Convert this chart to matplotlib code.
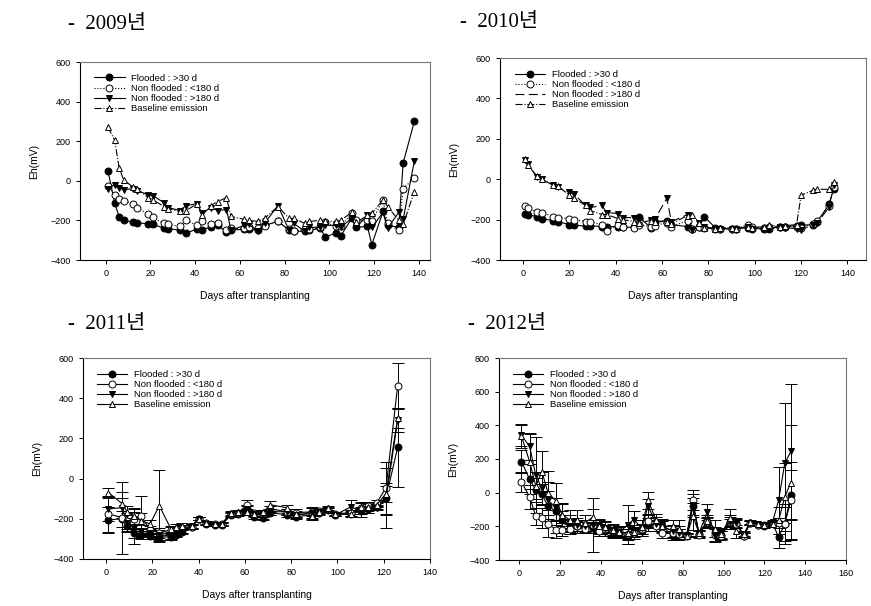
import matplotlib
matplotlib.use("Agg")
import matplotlib.pyplot as plt
from matplotlib.lines import Line2D

plt.rcParams['font.family'] = ['Liberation Sans', 'DejaVu Sans']

# ---- 2009 ----
days09 = [1, 4, 6, 8, 12, 14, 19, 21, 26, 28, 33, 36, 41, 43, 47, 50, 54, 56, 62, 64,
          68, 71, 77, 82, 84, 89, 91, 96, 98, 103, 105, 110, 112, 117, 119, 124, 126, 131, 133, 138]
flood09 = [50, -111, -183, -200, -208, -212, -217, -220, -239, -242, -249, -265, -242, -249, -232,
           -224, -260, -249, -245, -245, -250, -225, -205, -250, -255, -255, -250, -240, -283, -265,
           -280, -190, -235, -230, -322, -155, -225, -235, 90, 300]
lt180_09 = [-25, -70, -90, -100, -115, -135, -170, -185, -215, -220, -230, -200, -225, -205, -220,
            -215, -250, -240, -240, -235, -240, -230, -205, -245, -255, -245, -245, -235, -210, -230,
            -230, -165, -200, -200, -205, -95, -215, -250, -40, 15]
gt180_09 = [-40, -20, -35, -45, -40, -50, -70, -75, -110, -135, -150, -125, -115, -165, -135,
            -150, -145, -250, -225, -220, -255, -215, -125, -250, -215, -255, -235, -235, -225, -225,
            -235, -190, -235, -175, -235, -160, -240, -160, -195, 100]
base09 = [270, 205, 65, 5, -30, -40, -85, -95, -130, -140, -155, -150, -115, -175, -125,
          -105, -85, -180, -195, -200, -205, -190, -130, -190, -190, -215, -205, -200, -205, -205,
          -200, -160, -210, -175, -165, -95, -130, -200, -220, -55]

# ---- 2010 ----
days10 = [1, 2, 6, 8, 13, 15, 20, 22, 27, 29, 34, 36, 41, 43, 48, 50, 55, 57, 62, 64,
          71, 73, 76, 78, 83, 85, 90, 92, 97, 99, 104, 106, 111, 113, 118, 120, 125, 127, 132, 134]
flood10 = [-170, -175, -185, -195, -205, -210, -225, -228, -232, -230, -235, -235, -235, -238, -238,
           -185, -240, -210, -205, -225, -235, -245, -235, -185, -240, -245, -245, -245, -240, -245,
           -245, -245, -235, -235, -230, -228, -225, -210, -125, -50]
lt180_10 = [-135, -145, -160, -165, -185, -190, -195, -200, -210, -210, -225, -255, -225, -235, -240,
            -225, -235, -230, -215, -235, -205, -245, -235, -240, -245, -245, -245, -245, -225, -235,
            -240, -235, -235, -235, -235, -240, -220, -205, -135, -40]
gt180_10 = [95, 75, 10, 0, -30, -40, -65, -75, -130, -140, -130, -165, -170, -190, -190,
            -195, -200, -195, -95, -210, -175, -250, -215, -235, -245, -245, -245, -245, -235, -245,
            -245, -245, -235, -240, -245, -250, -225, -215, -140, -30]
base10 = [100, 70, 15, 0, -30, -35, -80, -95, -130, -155, -175, -175, -195, -200, -210,
          -215, -205, -210, -210, -220, -180, -175, -215, -240, -245, -240, -240, -245, -235, -240,
          -235, -225, -235, -230, -225, -80, -55, -50, -50, -15]

# ---- 2011 ----
days11 = [1, 7, 9, 12, 15, 19, 23, 28, 30, 33, 37, 40, 43, 47, 50, 54, 57, 61, 64, 68,
          71, 78, 82, 89, 92, 96, 99, 106, 110, 113, 117, 121, 126]
flood11 = [-205, -200, -235, -270, -280, -285, -290, -290, -280, -265, -240, -200, -225, -230, -230,
           -180, -175, -150, -190, -195, -170, -180, -190, -180, -170, -155, -180, -175, -160, -150,
           -140, -95, 155]
lt180_11 = [-175, -195, -210, -200, -185, -255, -270, -255, -250, -245, -240, -200, -220, -225, -225,
            -175, -170, -130, -170, -175, -150, -165, -170, -165, -160, -150, -175, -170, -145, -135,
            -120, -45, 460]
gt180_11 = [-150, -145, -220, -245, -260, -270, -280, -285, -275, -260, -235, -200, -225, -230, -230,
            -175, -170, -150, -175, -185, -165, -165, -180, -170, -165, -155, -180, -140, -165, -155,
            -145, -100, 290]
base11 = [-70, -125, -165, -185, -210, -225, -135, -250, -240, -235, -235, -200, -220, -225, -225,
          -170, -165, -165, -175, -165, -130, -145, -175, -185, -165, -145, -175, -175, -140, -140,
          -130, -75, 300]
flood11_err = [65, 40, 30, 25, 20, 15, 20, 15, 10, 10, 10, 8, 8, 8, 8, 10, 10, 15, 12, 10,
               10, 10, 12, 15, 10, 10, 8, 10, 15, 10, 10, 150, 195]
lt180_11_err = [90, 180, 40, 50, 100, 20, 25, 15, 12, 12, 10, 8, 8, 8, 8, 10, 10, 25, 15, 15,
                15, 15, 20, 20, 10, 10, 10, 15, 30, 20, 15, 130, 115]
gt180_11_err = [60, 50, 40, 80, 30, 20, 25, 15, 12, 12, 10, 8, 8, 8, 8, 10, 10, 20, 15, 15,
                15, 15, 15, 30, 12, 10, 8, 35, 25, 15, 10, 80, 60]
base11_err = [25, 60, 30, 40, 40, 20, 180, 15, 12, 12, 10, 8, 8, 8, 8, 10, 10, 15, 12, 10,
              20, 15, 15, 20, 10, 10, 8, 15, 20, 15, 10, 40, 50]

# ---- 2012 ----
days12 = [1, 5, 8, 11, 14, 18, 21, 25, 28, 32, 36, 39, 42, 46, 49, 53, 56, 60, 63, 67,
          70, 75, 78, 82, 85, 88, 92, 96, 99, 103, 106, 110, 113, 117, 120, 124, 127, 130, 133]
flood12 = [185, 80, 15, -10, -80, -110, -160, -195, -200, -205, -210, -215, -230, -240, -240,
           -260, -235, -225, -190, -195, -200, -255, -245, -255, -80, -245, -180, -235, -250, -185,
           -180, -255, -180, -190, -200, -180, -265, -185, -15]
lt180_12 = [65, -25, -140, -150, -185, -220, -220, -215, -200, -215, -195, -225, -215, -230, -230,
            -245, -240, -215, -170, -200, -240, -240, -245, -250, -45, -250, -175, -250, -255, -175,
            -185, -255, -180, -190, -195, -180, -180, -185, -45]
gt180_12 = [340, 275, 105, 25, -45, -90, -150, -180, -195, -200, -190, -195, -215, -225, -235,
            -190, -160, -210, -80, -185, -195, -230, -240, -250, -75, -240, -115, -255, -240, -175,
            -180, -250, -180, -185, -190, -175, -45, 175, 245]
base12 = [335, 185, 40, 125, 0, -50, -130, -165, -165, -180, -145, -200, -205, -220, -235,
          -240, -235, -205, -45, -165, -200, -200, -215, -255, -140, -240, -170, -215, -245, -150,
          -230, -245, -175, -185, -195, -185, -165, -25, 60]
flood12_err = [70, 90, 70, 60, 90, 80, 50, 40, 40, 30, 30, 30, 30, 30, 25, 45, 30, 35, 40, 30,
               30, 25, 30, 10, 50, 20, 30, 30, 25, 30, 25, 15, 10, 10, 10, 10, 65, 120, 150]
lt180_12_err = [60, 70, 50, 60, 80, 50, 40, 30, 30, 25, 30, 30, 25, 25, 25, 30, 25, 30, 40, 30,
                30, 25, 30, 10, 60, 20, 30, 35, 25, 30, 25, 15, 10, 10, 10, 10, 30, 100, 230]
gt180_12_err = [60, 80, 225, 100, 110, 150, 80, 50, 45, 40, 160, 40, 40, 40, 35, 115, 50, 45, 45, 40,
                40, 40, 40, 10, 70, 20, 45, 40, 30, 40, 30, 15, 10, 10, 10, 10, 200, 355, 400]
base12_err = [70, 165, 80, 120, 130, 110, 70, 60, 60, 50, 50, 40, 35, 30, 30, 40, 40, 40, 50, 40,
              40, 40, 50, 10, 80, 20, 40, 50, 30, 55, 40, 15, 10, 10, 10, 10, 80, 200, 340]

labels = ["Flooded : >30 d", "Non flooded : <180 d", "Non flooded : >180 d", "Baseline emission"]
markers = ['o', 'o', 'v', '^']
faces = ['black', 'white', 'black', 'white']

fig = plt.figure(figsize=(8.71, 6.06), dpi=100)
W, H = 871, 606


def add_ax(l, t, r, b):
    return fig.add_axes([l / W, 1 - b / H, (r - l) / W, (b - t) / H])


def panel(ax, days, series, errs, styles, xlim, ylim, yticks, xticks, legend_nomarker=()):
    handles = []
    for i, y in enumerate(series):
        kw = dict(color='black', lw=0.8, ls=styles[i], marker=markers[i], ms=5,
                  mfc=faces[i], mec='black', mew=0.7)
        if errs is None:
            ax.plot(days, y, **kw)
        else:
            ax.errorbar(days, y, yerr=errs[i], elinewidth=0.7, capsize=4, capthick=0.7, **kw)
        if i in legend_nomarker:
            handles.append(Line2D([], [], color='black', lw=0.8, ls=styles[i]))
        else:
            handles.append(Line2D([], [], **kw))
    ax.set_xlim(*xlim)
    ax.set_ylim(*ylim)
    ax.set_xticks(xticks)
    ax.set_yticks(yticks)
    ax.tick_params(labelsize=6.5, length=3, width=0.7, direction='out', top=False, right=False)
    for s in ['top', 'right']:
        ax.spines[s].set_color('#777777')
    for s in ax.spines.values():
        s.set_linewidth(0.8)
    ax.set_xlabel("Days after transplanting", fontsize=7.5, labelpad=9)
    ax.set_ylabel("Eh(mV)", fontsize=7.5, labelpad=8)
    ax.legend(handles, labels, loc='upper left', bbox_to_anchor=(0.03, 0.96), frameon=False,
              fontsize=6.8, handlelength=3.2, labelspacing=0.12, borderaxespad=0, handletextpad=0.7)


ax1 = add_ax(80, 62, 430, 260)
panel(ax1, days09, [flood09, lt180_09, gt180_09, base09], None,
      ['-', ':', '-', '-.'], (-11.5, 145), (-400, 600), range(-400, 601, 200), range(0, 141, 20))

ax2 = add_ax(500, 58, 866, 260)
panel(ax2, days10, [flood10, lt180_10, gt180_10, base10], None,
      ['-', ':', (0, (8, 4)), '-.'], (-10, 148), (-400, 600), range(-400, 601, 200), range(0, 141, 20),
      legend_nomarker=(2,))

ax3 = add_ax(83, 358, 430, 559)
panel(ax3, days11, [flood11, lt180_11, gt180_11, base11],
      [flood11_err, lt180_11_err, gt180_11_err, base11_err],
      ['-', '-', '-', '-'], (-10, 139), (-400, 600), range(-400, 601, 200), range(0, 141, 20))

ax4 = add_ax(499, 358, 846, 560)
panel(ax4, days12, [flood12, lt180_12, gt180_12, base12],
      [flood12_err, lt180_12_err, gt180_12_err, base12_err],
      ['-', '-', '-', '-'], (-10, 159), (-400, 800), range(-400, 801, 200), range(0, 161, 20))

title_font = ['Liberation Serif', 'Noto Sans CJK KR']
for (x, y, yr) in [(68, 24, "2009년"), (460, 22, "2010년"), (68, 325, "2011년"), (468, 325, "2012년")]:
    fig.text(x / W, 1 - y / H, "-  " + yr, fontsize=15, family=title_font, va='center', ha='left')

fig.savefig("out.png", dpi=100)
